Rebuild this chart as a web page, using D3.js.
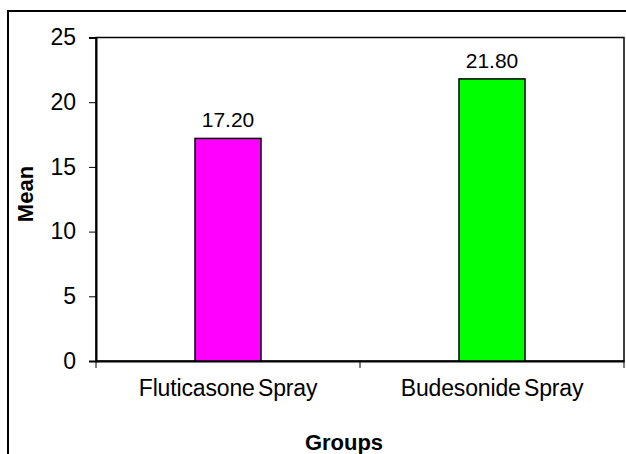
<!DOCTYPE html>
<html>
<head>
<meta charset="utf-8">
<script src="https://cdn.jsdelivr.net/npm/d3@7"></script>
<style>
  html, body { margin: 0; padding: 0; background: #fff; }
  svg { display: block; }
  text { font-family: "Liberation Sans", Arial, sans-serif; fill: #000; }
</style>
</head>
<body>
<svg id="chart" width="626" height="454"></svg>
<script>
// Mean score per treatment group
const groups = ["Fluticasone Spray", "Budesonide Spray"];
const means = [17.20, 21.80];
const barColors = ["#ff00ff", "#00ff00"];
const yTicks = [0, 5, 10, 15, 20, 25];

const svg = d3.select("#chart");
const W = 626, H = 454;
const plot = { left: 96, right: 624, top: 37.5, bottom: 361 };

// outer chart border
svg.append("rect")
  .attr("x", 8).attr("y", 11)
  .attr("width", W + 10).attr("height", H + 10)
  .attr("fill", "#fff").attr("stroke", "#000").attr("stroke-width", 2);

const x = d3.scaleBand().domain(groups).range([plot.left, plot.right]).padding(0);
const y = d3.scaleLinear().domain([0, 25]).range([plot.bottom, plot.top]);

// plot frame
svg.append("rect")
  .attr("x", plot.left).attr("y", plot.top)
  .attr("width", plot.right - plot.left).attr("height", plot.bottom - plot.top)
  .attr("fill", "none").attr("stroke", "#000").attr("stroke-width", 1.5);

// y axis
const yAxis = svg.append("g")
  .attr("transform", `translate(${plot.left},0)`)
  .call(d3.axisLeft(y).tickValues(yTicks).tickFormat(d3.format("d")).tickSize(7).tickPadding(13));
yAxis.select(".domain").attr("stroke", "#000").attr("stroke-width", 2);
yAxis.selectAll(".tick line").attr("stroke", "#000").attr("stroke-width", 1);
yAxis.selectAll(".tick text")
  .style("font-size", "23px").attr("fill", "#000");

// x axis labels
const xAxis = svg.append("g")
  .attr("transform", `translate(0,${plot.bottom})`)
  .call(d3.axisBottom(x).tickSize(0).tickPadding(19));
xAxis.select(".domain").attr("stroke", "#000").attr("stroke-width", 2);
xAxis.selectAll(".tick text")
  .style("font-size", "23px").style("letter-spacing", "-0.15px").style("word-spacing", "-3px")
  .attr("fill", "#000");

// x tick marks at category boundaries
const bounds = groups.map(g => x(g)).concat([x(groups[groups.length - 1]) + x.bandwidth()]);
svg.append("g").selectAll("line")
  .data(bounds).join("line")
  .attr("x1", d => d).attr("x2", d => d)
  .attr("y1", plot.bottom).attr("y2", plot.bottom + 7)
  .attr("stroke", "#000").attr("stroke-width", 1);

// bars
const barW = x.bandwidth() * 0.25;
svg.append("g").selectAll("rect")
  .data(groups).join("rect")
  .attr("x", (d) => x(d) + (x.bandwidth() - barW) / 2)
  .attr("y", (d, i) => y(means[i]))
  .attr("width", barW)
  .attr("height", (d, i) => y(0) - y(means[i]))
  .attr("fill", (d, i) => barColors[i])
  .attr("stroke", "#000").attr("stroke-width", 1.5);

// value labels
svg.append("g").selectAll("text")
  .data(groups).join("text")
  .attr("x", d => x(d) + x.bandwidth() / 2)
  .attr("y", (d, i) => y(means[i]) - 11)
  .attr("text-anchor", "middle")
  .style("font-size", "21px")
  .text((d, i) => means[i].toFixed(2));

// axis titles
svg.append("text")
  .attr("x", 344).attr("y", 450)
  .attr("text-anchor", "middle")
  .style("font-size", "22px").style("font-weight", "bold")
  .text("Groups");

svg.append("text")
  .attr("transform", "translate(33,194) rotate(-90)")
  .attr("text-anchor", "middle")
  .style("font-size", "22px").style("font-weight", "bold")
  .text("Mean");
</script>
</body>
</html>
